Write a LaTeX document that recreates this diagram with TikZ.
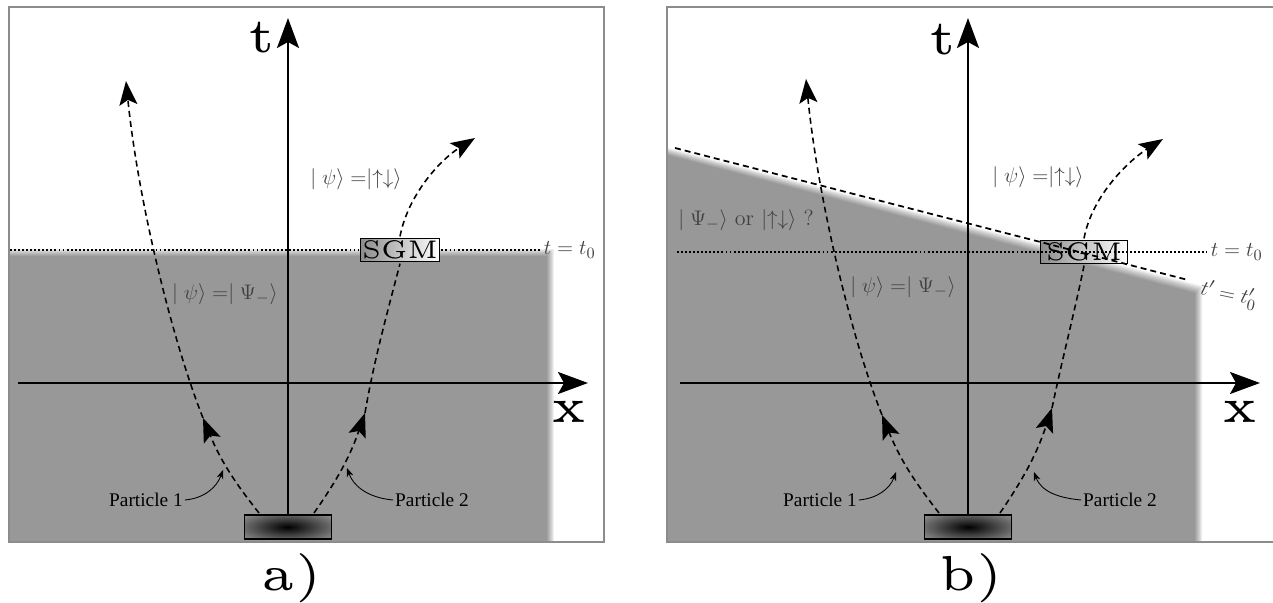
\documentclass[tikz,border=0pt]{standalone}
\usepackage{fontspec}
\newfontfamily\partfont{Liberation Serif}
\usetikzlibrary{arrows.meta}

\begin{document}
\begin{tikzpicture}[x=0.2mm,y=0.2mm,
        axisline/.style={line width=1.1pt,-{Stealth[length=6mm,width=4.4mm,inset=1.2mm]}},
        track/.style={line width=0.9pt,dash pattern=on 3.4pt off 2.3pt,-{Stealth[length=4.8mm,width=3.6mm,inset=1mm]}},
        tline/.style={line width=1.1pt,dash pattern=on 1.1pt off 1.2pt},
        slantline/.style={line width=1pt,dash pattern=on 3.4pt off 2.3pt},
        pointer/.style={line width=0.5pt,-{Stealth[length=1.8mm,width=1.4mm]}},
        panelbox/.style={draw=black!45,line width=0.6pt},
        haze/.style={fill=black,opacity=0.062},
        srcbox/.style={draw,line width=0.9pt,minimum width=17.4mm,minimum height=4.8mm,inner sep=0pt},
        sgmbox/.style={draw,line width=0.8pt,left color=black!45,right color=white,font=\fontsize{5}{6}\selectfont,scale=2.9,inner sep=0.3pt,minimum height=1.6mm},
        bigtxt/.style={font=\fontsize{5}{6}\selectfont,scale=5.6,inner sep=0pt},
        mlab/.style={text=black!75,font=\fontsize{12.5}{14}\selectfont,inner sep=2pt},
        plab/.style={text=black,font=\partfont\fontsize{11}{12}\selectfont,inner sep=1pt}]
        \useasboundingbox (0,0) rectangle (1273,-603);
        \clip (0,0) rectangle (1273,-603);
        % a) grey zone below t = t_0
        \begin{scope}
        \clip (9,-7) rectangle (604,-542);
        \foreach \i in {0,...,7}
            \fill[haze] (0,-249-\i) rectangle (554-\i,-560);
        \end{scope}
        \draw[panelbox] (9,-7) rectangle (604,-542);
        \begin{scope}
        \clip (244,-515) rectangle (331,-539);
        \shade[inner color=black,outer color=black!40] (287.5,-527) ellipse (62 and 19);
        \end{scope}
        \node[srcbox] (srcA) at (288,-527) {};
        \coordinate (tA) at (288,-18);
        \coordinate (xA0) at (18,-383);
        \coordinate (xA1) at (588,-383);
        \draw[axisline] (srcA.north) -- (tA);
        \draw[axisline] (xA0) -- (xA1);
        \node[bigtxt] (tlabA) at (262,-38) {t};
        \node[bigtxt] (xlabA) at (569,-412) {x};
        \node[bigtxt] (capA) at (292,-578) {a)};
        \node[sgmbox,minimum width=5.3mm] (sgmA) at (400,-250) {SGM};
        \coordinate (dA0) at (10,-250);
        \coordinate (dA1) at (540,-250);
        \draw[tline] (dA0) -- (sgmA.west);
        \draw[tline] (sgmA.east) -- (dA1);
        \node[mlab,anchor=west] (t0A) at (dA1) {$t=t_0$};
        \coordinate (p1sA) at (259,-513);
        \coordinate (p1mA) at (203,-418);
        \coordinate (p1eA) at (126,-81);
        \draw[track] (p1sA) to[bend left=8] (p1mA);
        \draw[track] (p1mA) .. controls (172,-340) and (138,-200) .. (p1eA);
        \coordinate (p2sA) at (314,-513);
        \coordinate (p2mA) at (365,-413);
        \coordinate (p2eA) at (475,-138);
        \draw[track] (p2sA) to[bend right=8] (p2mA);
        \draw[track,-] (p2mA) .. controls (374,-360) and (388,-310) .. (sgmA.south);
        \draw[track] (sgmA.north) .. controls (408,-195) and (440,-160) .. (p2eA);
        \node[mlab] (upA) at (356,-179) {$\mid\psi\rangle =\mathrel{|{\uparrow\downarrow}\rangle}$};
        \node[mlab] (psA) at (225,-294) {$\mid\psi\rangle =\mid\Psi_-\rangle$};
        \node[plab] (part1A) at (146,-500) {Particle 1};
        \node[plab] (part2A) at (432,-500) {Particle 2};
        \coordinate (h1A) at (223,-470);
        \coordinate (h2A) at (347,-468);
        \draw[pointer] (part1A.east) to[out=5,in=-110] (h1A);
        \draw[pointer] (part2A.west) to[out=175,in=-70] (h2A);
        % b) grey zone below t' = t'_0
        \begin{scope}
        \clip (667,-7) rectangle (1290,-542);
        \foreach \i in {0,...,7}
            \fill[haze] (660,-146-\i) -- (1202-\i,-286-\i) -- (1202-\i,-560) -- (660,-560) -- cycle;
        \end{scope}
        \draw[panelbox] (667,-7) rectangle (1290,-542);
        \begin{scope}
        \clip (925,-515) rectangle (1012,-539);
        \shade[inner color=black,outer color=black!40] (968.5,-527) ellipse (62 and 19);
        \end{scope}
        \node[srcbox] (srcB) at (968,-527) {};
        \coordinate (tB) at (968,-18);
        \coordinate (xB0) at (680,-383);
        \coordinate (xB1) at (1260,-383);
        \draw[axisline] (srcB.north) -- (tB);
        \draw[axisline] (xB0) -- (xB1);
        \node[bigtxt] (tlabB) at (943,-40) {t};
        \node[bigtxt] (xlabB) at (1240,-412) {x};
        \node[bigtxt] (capB) at (971,-578) {b)};
        \node[sgmbox,minimum width=6mm] (sgmB) at (1084,-252) {SGM};
        \coordinate (dB0) at (677,-252);
        \coordinate (dB1) at (1207,-252);
        \coordinate (sB0) at (675,-148);
        \coordinate (sB1) at (1188,-280);
        \draw[tline] (dB0) -- (dB1);
        \draw[slantline] (sB0) -- (sB1);
        \node[mlab,anchor=west] (t0B) at (dB1) {$t=t_0$};
        \node[mlab,rotate=-12,inner sep=0pt] (t1B) at (1229,-295) {$t'=t'_0$};
        \coordinate (p1sB) at (939,-513);
        \coordinate (p1mB) at (882,-415);
        \coordinate (p1eB) at (806,-79);
        \draw[track] (p1sB) to[bend left=8] (p1mB);
        \draw[track] (p1mB) .. controls (852,-340) and (818,-200) .. (p1eB);
        \coordinate (p2sB) at (1000,-513);
        \coordinate (p2mB) at (1052,-408);
        \coordinate (p2eB) at (1163,-139);
        \draw[track] (p2sB) to[bend right=8] (p2mB);
        \draw[track,-] (p2mB) .. controls (1062,-360) and (1075,-310) .. (sgmB.south);
        \draw[track] (sgmB.north) .. controls (1092,-196) and (1128,-161) .. (p2eB);
        \node[mlab] (upB) at (1038,-177) {$\mid\psi\rangle =\mathrel{|{\uparrow\downarrow}\rangle}$};
        \node[mlab] (askB) at (746,-220) {$\mid\Psi_-\rangle$ or $|{\uparrow\downarrow}\rangle$ ?};
        \node[mlab] (psB) at (903,-287) {$\mid\psi\rangle =\mid\Psi_-\rangle$};
        \node[plab] (part1B) at (820,-500) {Particle 1};
        \node[plab] (part2B) at (1120,-500) {Particle 2};
        \coordinate (h1B) at (896,-472);
        \coordinate (h2B) at (1034,-472);
        \draw[pointer] (part1B.east) to[out=5,in=-110] (h1B);
        \draw[pointer] (part2B.west) to[out=175,in=-70] (h2B);
\end{tikzpicture}
\end{document}
